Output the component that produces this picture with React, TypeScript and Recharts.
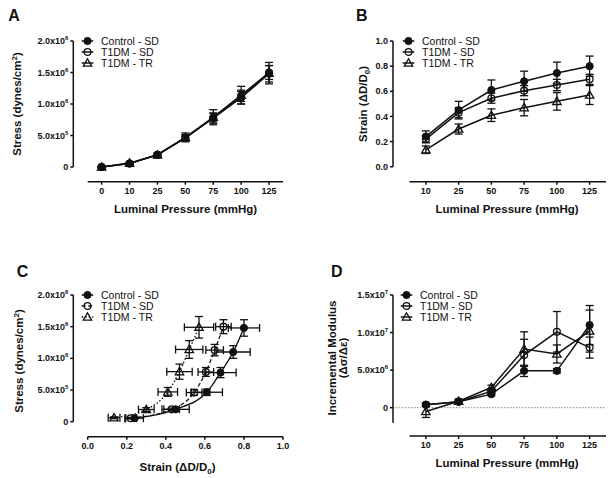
import React from 'react';
import {
  ComposedChart,
  Line,
  Scatter,
  XAxis,
  YAxis,
  ErrorBar,
  ReferenceLine,
  Legend,
} from 'recharts';

const FONT = '"Liberation Sans", Arial, Helvetica, sans-serif';
const INK = '#111111';

// ---------- categories / tick labels ----------
const pressuresA = ['0', '10', '25', '50', '75', '100', '125'];
const pressuresB = ['10', '25', '50', '75', '100', '125'];
const seriesNames = ['Control - SD', 'T1DM - SD', 'T1DM - TR'];
const stressTicks = [0, 500000, 1000000, 1500000, 2000000];
const strainTicks = [0, 0.2, 0.4, 0.6, 0.8, 1.0];
const modulusTicks = [0, 5000000, 10000000, 15000000];

// ---------- Panel A: stress (dynes/cm2) at 0..125 mmHg ----------
const stressControl = [0, 55000, 195000, 465000, 775000, 1100000, 1480000];
const stressControlErr = [10000, 12000, 20000, 50000, 80000, 100000, 130000];
const stressSD = [0, 55000, 195000, 460000, 785000, 1130000, 1500000];
const stressSDErr = [10000, 12000, 20000, 45000, 70000, 90000, 110000];
const stressTR = [0, 62000, 192000, 470000, 790000, 1140000, 1490000];
const stressTRErr = [10000, 15000, 30000, 70000, 120000, 140000, 170000];

// ---------- Panel B: strain at 10..125 mmHg ----------
const strainControl = [0.24, 0.45, 0.61, 0.68, 0.745, 0.8];
const strainControlErr = [0.045, 0.07, 0.08, 0.08, 0.087, 0.08];
const strainSD = [0.22, 0.43, 0.545, 0.605, 0.65, 0.695];
const strainSDErr = [0.03, 0.04, 0.04, 0.04, 0.045, 0.04];
const strainTR = [0.135, 0.3, 0.41, 0.47, 0.52, 0.57];
const strainTRErr = [0.03, 0.04, 0.05, 0.065, 0.07, 0.075];

// ---------- Panel D: incremental modulus at 10..125 mmHg ----------
const modControl = [400000, 800000, 1800000, 4900000, 4900000, 11000000];
const modControlErr = [200000, 200000, 200000, 750000, 300000, 2600000];
const modSD = [400000, 800000, 2200000, 7000000, 10100000, 8000000];
const modSDErr = [200000, 200000, 300000, 2100000, 2700000, 1400000];
const modTR = [-500000, 850000, 2700000, 7800000, 7150000, 10200000];
const modTRErr = [800000, 300000, 300000, 2300000, 1200000, 2800000];

// ---------- derived tables ----------
const dataA = pressuresA.map((p, i) => ({
  i, p,
  c: stressControl[i], cE: stressControlErr[i],
  s: stressSD[i], sE: stressSDErr[i],
  t: stressTR[i], tE: stressTRErr[i],
}));
const dataB = pressuresB.map((p, i) => ({
  i, p,
  c: strainControl[i], cE: strainControlErr[i],
  s: strainSD[i], sE: strainSDErr[i],
  t: strainTR[i], tE: strainTRErr[i],
}));
const dataD = pressuresB.map((p, i) => ({
  i, p,
  c: modControl[i], cE: modControlErr[i],
  s: modSD[i], sE: modSDErr[i],
  t: modTR[i], tE: modTRErr[i],
}));
// Panel C: stress vs strain (pressures 10..125 => stress index +1)
const mkC = (strain: number[], strainErr: number[], stress: number[], stressErr: number[]) =>
  strain.map((x, i) => ({ x, y: stress[i + 1], ex: strainErr[i], ey: stressErr[i + 1] }));
const cControl = mkC(strainControl, strainControlErr, stressControl, stressControlErr);
const cSD = mkC(strainSD, strainSDErr, stressSD, stressSDErr);
const cTR = mkC(strainTR, strainTRErr, stressTR, stressTRErr);

// ---------- helpers ----------
type Kind = 'filled' | 'open' | 'tri';
const kinds: Kind[] = ['filled', 'open', 'tri'];

function Marker({ cx, cy, kind }: { cx: number; cy: number; kind: Kind }) {
  if (cx == null || cy == null || isNaN(cx) || isNaN(cy)) return null;
  if (kind === 'filled') return <circle cx={cx} cy={cy} r={3.6} fill={INK} stroke={INK} strokeWidth={1} />;
  if (kind === 'open') return <circle cx={cx} cy={cy} r={3.4} fill="none" stroke={INK} strokeWidth={1.3} />;
  const h = 4.2;
  return (
    <polygon
      points={`${cx},${cy - h} ${cx + h},${cy + h * 0.75} ${cx - h},${cy + h * 0.75}`}
      fill="none"
      stroke={INK}
      strokeWidth={1.3}
      strokeLinejoin="miter"
    />
  );
}

function sciParts(v: number): [string, string] {
  if (v === 0) return ['0', ''];
  const e = Math.floor(Math.log10(Math.abs(v)) + 1e-9);
  const m = v / Math.pow(10, e);
  return [`${m.toFixed(1)}x10`, String(e)];
}

const tickStyle = { fontSize: 9, fontWeight: 700, fill: INK, fontFamily: FONT };
const tickLineStyle = { stroke: INK, strokeWidth: 1.5 };

function SciTick(props: any) {
  const { x, y, payload } = props;
  const [m, e] = sciParts(payload.value);
  return (
    <text x={x} y={y} textAnchor="end" dy="0.35em" fontFamily={FONT} fontSize={9} fontWeight={700} fill={INK}>
      {m}
      {e ? (
        <tspan fontSize={6} dy={-4}>
          {e}
        </tspan>
      ) : null}
    </text>
  );
}

const LEG_PITCH = 11;

function LegendBox({ dashes }: { dashes?: (string | undefined)[] }) {
  return (
    <svg width={120} height={36} style={{ display: 'block', overflow: 'visible' }}>
      {seriesNames.map((n, i) => {
        const y = 5 + i * LEG_PITCH;
        return (
          <g key={n}>
            <line x1={1.7} x2={13.3} y1={y} y2={y} stroke={INK} strokeWidth={1.5}
              strokeDasharray={dashes ? dashes[i] : undefined} />
            <Marker cx={7.5} cy={y} kind={kinds[i]} />
            <text x={21} y={y} dy="0.36em" fontFamily={FONT} fontSize={10.5} fill={INK}>
              {n}
            </text>
          </g>
        );
      })}
    </svg>
  );
}

const titleStyle = { fontFamily: FONT, fontSize: 11.5, fontWeight: 700, fill: INK } as const;
const letterStyle = { fontFamily: FONT, fontSize: 16, fontWeight: 700, fill: INK } as const;

const lineProps = { stroke: INK, strokeWidth: 1.5, isAnimationActive: false, activeDot: false } as any;
const errProps = { stroke: INK, strokeWidth: 1.3, width: 4 } as any;

const keys = ['c', 's', 't'];

function seriesLines() {
  return keys.map((k, idx) => (
    <Line
      key={k}
      dataKey={k}
      name={seriesNames[idx]}
      {...lineProps}
      type="linear"
      dot={(p: any) => <Marker key={`${k}-${p.index}`} cx={p.cx} cy={p.cy} kind={kinds[idx]} />}
    >
      <ErrorBar dataKey={`${k}E`} direction="y" {...errProps} />
    </Line>
  ));
}

// ---------- Panel A ----------
const A_XDOM: [number, number] = [-1.016, 6.5];
const A_YDOM: [number, number] = [-233000, 2000000];

function PanelA() {
  return (
    <ComposedChart width={306} height={238} data={dataA} margin={{ top: 41, right: 23, bottom: 36.3, left: 0 }}>
      <XAxis type="number" dataKey="i" domain={A_XDOM} allowDataOverflow ticks={pressuresA.map((_, i) => i)}
        tickFormatter={(v: number) => pressuresA[v]} interval={0} axisLine={false} tickLine={tickLineStyle}
        tickSize={3} tickMargin={3} tick={tickStyle} height={20} />
      <YAxis type="number" domain={A_YDOM} allowDataOverflow ticks={stressTicks} interval={0} width={73.3}
        axisLine={false} tickLine={tickLineStyle} tickSize={3} tickMargin={2} tick={<SciTick />} />
      <ReferenceLine segment={[{ x: A_XDOM[0], y: 0 }, { x: A_XDOM[0], y: 2000000 }]} stroke={INK} strokeWidth={1.5} ifOverflow="visible" />
      <ReferenceLine segment={[{ x: -0.5, y: A_YDOM[0] }, { x: 6.5, y: A_YDOM[0] }]} stroke={INK} strokeWidth={1.5} ifOverflow="visible" />
      {seriesLines()}
      <Legend layout="vertical" align="center" verticalAlign="middle"
        wrapperStyle={{ left: 80, top: 36, width: 120, height: 36 }} content={() => <LegendBox />} />
      <text x={8.3} y={20.7} {...letterStyle}>A</text>
      <text transform="translate(16.5,104) rotate(-90)" textAnchor="middle" dy="0.35em" {...titleStyle}>
        Stress (dynes/cm<tspan fontSize={8} dy={-4}>2</tspan><tspan dy={4}>)</tspan>
      </text>
      <text x={185.5} y={209} textAnchor="middle" dy="0.35em" {...titleStyle}>Luminal Pressure (mmHg)</text>
    </ComposedChart>
  );
}

// ---------- Panel B ----------
const B_XDOM: [number, number] = [-1.004, 5.5];
const B_YDOM: [number, number] = [-0.119, 1];

function PanelB() {
  return (
    <ComposedChart width={306} height={238} data={dataB} margin={{ top: 41, right: 6, bottom: 36.3, left: 0 }}>
      <XAxis type="number" dataKey="i" domain={B_XDOM} allowDataOverflow ticks={pressuresB.map((_, i) => i)}
        tickFormatter={(v: number) => pressuresB[v]} interval={0} axisLine={false} tickLine={tickLineStyle}
        tickSize={3} tickMargin={3} tick={tickStyle} height={20} />
      <YAxis type="number" domain={B_YDOM} allowDataOverflow ticks={strainTicks} interval={0} width={87}
        tickFormatter={(v: number) => v.toFixed(1)} axisLine={false} tickLine={tickLineStyle} tickSize={3}
        tickMargin={2} tick={tickStyle} />
      <ReferenceLine segment={[{ x: B_XDOM[0], y: 0 }, { x: B_XDOM[0], y: 1 }]} stroke={INK} strokeWidth={1.5} ifOverflow="visible" />
      <ReferenceLine segment={[{ x: -0.5, y: B_YDOM[0] }, { x: 5.5, y: B_YDOM[0] }]} stroke={INK} strokeWidth={1.5} ifOverflow="visible" />
      {seriesLines()}
      <Legend layout="vertical" align="center" verticalAlign="middle"
        wrapperStyle={{ left: 94.8, top: 36, width: 120, height: 36 }} content={() => <LegendBox />} />
      <text x={50} y={20.7} {...letterStyle}>B</text>
      <text transform="translate(56.7,104) rotate(-90)" textAnchor="middle" dy="0.35em" {...titleStyle}>
        Strain (ΔD/D<tspan fontSize={8} dy={3}>0</tspan><tspan dy={-3}>)</tspan>
      </text>
      <text x={201} y={209} textAnchor="middle" dy="0.35em" {...titleStyle}>Luminal Pressure (mmHg)</text>
    </ComposedChart>
  );
}

// ---------- Panel C ----------
const C_XDOM: [number, number] = [-0.0737, 1];
const C_YDOM: [number, number] = [-237000, 2000000];
const cSeries = [cControl, cSD, cTR];
const cDashes = [undefined, '4 2.5', '1.5 2'];

function PanelC() {
  return (
    <ComposedChart width={306} height={238} margin={{ top: 55, right: 23, bottom: 21.3, left: 0 }}>
      <XAxis type="number" dataKey="x" domain={C_XDOM} allowDataOverflow ticks={strainTicks} interval={0}
        tickFormatter={(v: number) => v.toFixed(1)} axisLine={false} tickLine={tickLineStyle} tickSize={3}
        tickMargin={3} tick={tickStyle} height={20} />
      <YAxis type="number" dataKey="y" domain={C_YDOM} allowDataOverflow ticks={stressTicks} interval={0} width={73.3}
        axisLine={false} tickLine={tickLineStyle} tickSize={3} tickMargin={2} tick={<SciTick />} />
      <ReferenceLine segment={[{ x: C_XDOM[0], y: 0 }, { x: C_XDOM[0], y: 2000000 }]} stroke={INK} strokeWidth={1.5} ifOverflow="visible" />
      <ReferenceLine segment={[{ x: 0, y: C_YDOM[0] }, { x: 1, y: C_YDOM[0] }]} stroke={INK} strokeWidth={1.5} ifOverflow="visible" />
      {cSeries.map((d, idx) => (
        <Line key={`fit-${idx}`} data={d} dataKey="y" name={seriesNames[idx]} type="monotone" dot={false}
          stroke={INK} strokeWidth={1.3} strokeDasharray={cDashes[idx]} isAnimationActive={false} activeDot={false}
          legendType="none" />
      ))}
      {cSeries.map((d, idx) => (
        <Scatter key={`pts-${idx}`} data={d} dataKey="y" name={seriesNames[idx]} isAnimationActive={false}
          shape={(p: any) => <Marker cx={p.cx} cy={p.cy} kind={kinds[idx]} />}>
          <ErrorBar dataKey="ex" direction="x" {...errProps} />
          <ErrorBar dataKey="ey" direction="y" {...errProps} />
        </Scatter>
      ))}
      <Legend layout="vertical" align="center" verticalAlign="middle"
        wrapperStyle={{ left: 80, top: 50, width: 120, height: 36 }} content={() => <LegendBox dashes={cDashes} />} />
      <text x={16.7} y={36.7} {...letterStyle}>C</text>
      <text transform="translate(19,121) rotate(-90)" textAnchor="middle" dy="0.35em" {...titleStyle}>
        Stress (dynes/cm<tspan fontSize={8} dy={-4}>2</tspan><tspan dy={4}>)</tspan>
      </text>
      <text x={177.5} y={226.7} textAnchor="middle" dy="0.35em" {...titleStyle}>
        Strain (ΔD/D<tspan fontSize={8} dy={3}>0</tspan><tspan dy={-3}>)</tspan>
      </text>
    </ComposedChart>
  );
}

// ---------- Panel D ----------
const D_XDOM: [number, number] = [-1.004, 5.5];
const D_YDOM: [number, number] = [-3770000, 15000000];

function PanelD() {
  return (
    <ComposedChart width={306} height={238} data={dataD} margin={{ top: 55, right: 6, bottom: 22, left: 0 }}>
      <XAxis type="number" dataKey="i" domain={D_XDOM} allowDataOverflow ticks={pressuresB.map((_, i) => i)}
        tickFormatter={(v: number) => pressuresB[v]} interval={0} axisLine={false} tickLine={tickLineStyle}
        tickSize={3} tickMargin={3} tick={tickStyle} height={20} />
      <YAxis type="number" domain={D_YDOM} allowDataOverflow ticks={modulusTicks} interval={0} width={87}
        axisLine={false} tickLine={tickLineStyle} tickSize={3} tickMargin={2} tick={<SciTick />} />
      <ReferenceLine y={0} stroke="#8a8a8a" strokeWidth={1} strokeDasharray="1.5 1.5" />
      <ReferenceLine segment={[{ x: D_XDOM[0], y: -2000000 }, { x: D_XDOM[0], y: 15000000 }]} stroke={INK} strokeWidth={1.5} ifOverflow="visible" />
      <ReferenceLine segment={[{ x: -0.5, y: D_YDOM[0] }, { x: 5.5, y: D_YDOM[0] }]} stroke={INK} strokeWidth={1.5} ifOverflow="visible" />
      {seriesLines()}
      <Legend layout="vertical" align="center" verticalAlign="middle"
        wrapperStyle={{ left: 92.5, top: 50, width: 120, height: 36 }} content={() => <LegendBox />} />
      <text x={25} y={36.7} {...letterStyle}>D</text>
      <text transform="translate(25.7,118) rotate(-90)" textAnchor="middle" dy="0.35em" {...titleStyle}>
        Incremental Modulus
      </text>
      <text transform="translate(37,118) rotate(-90)" textAnchor="middle" dy="0.35em" {...titleStyle}>
        (Δσ/Δε)
      </text>
      <text x={201} y={223.3} textAnchor="middle" dy="0.35em" {...titleStyle}>Luminal Pressure (mmHg)</text>
    </ComposedChart>
  );
}

export default function App() {
  return (
    <div style={{ position: 'absolute', left: 0, top: 0, width: 612, height: 478, background: '#fff' }}>
      <div style={{ position: 'absolute', left: 0, top: 0 }}><PanelA /></div>
      <div style={{ position: 'absolute', left: 306, top: 0 }}><PanelB /></div>
      <div style={{ position: 'absolute', left: 0, top: 240 }}><PanelC /></div>
      <div style={{ position: 'absolute', left: 306, top: 240 }}><PanelD /></div>
    </div>
  );
}
